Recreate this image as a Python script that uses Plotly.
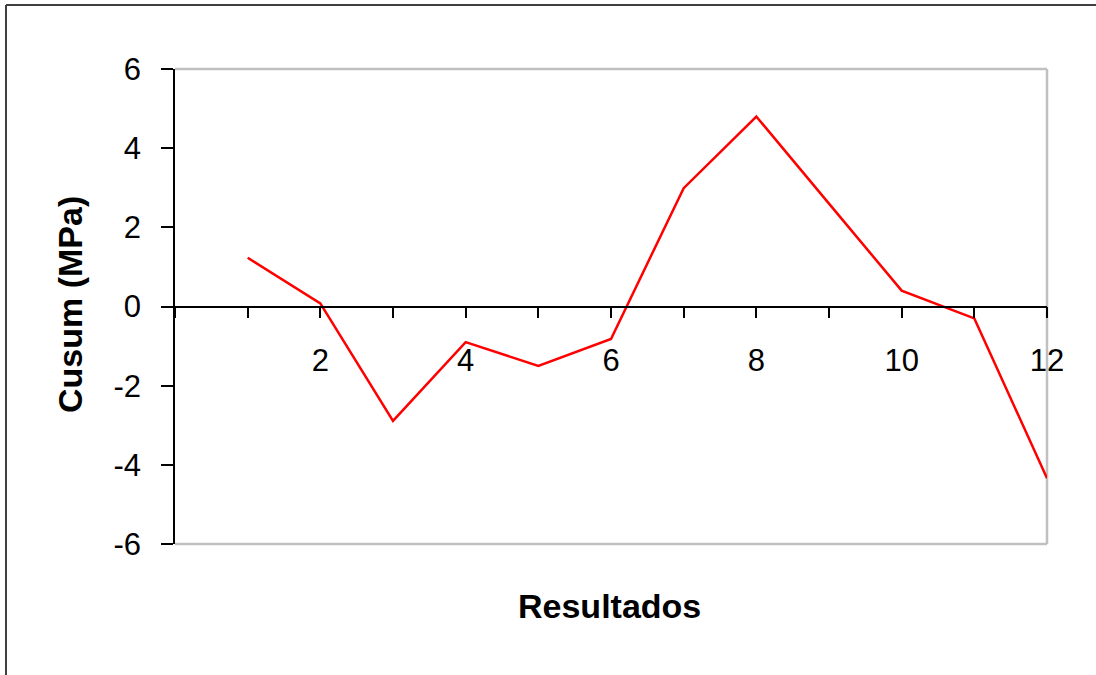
import plotly.graph_objects as go

# Cusum chart data
resultados = [1, 2, 3, 4, 5, 6, 7, 8, 9, 10, 11, 12]
cusum_mpa = [1.23, 0.08, -2.89, -0.90, -1.50, -0.82, 2.99, 4.80, 2.60, 0.40, -0.30, -4.34]

x_tick_vals = list(range(0, 13))
x_tick_text = ["", "", "2", "", "4", "", "6", "", "8", "", "10", "", "12"]
y_tick_vals = [-6, -4, -2, 0, 2, 4, 6]
y_tick_text = ["-6", "-4", "-2", "0", "2", "4", "6"]

FONT = "Liberation Sans, Arial, Helvetica, sans-serif"

fig = go.Figure()
fig.add_trace(go.Scatter(
    x=resultados, y=cusum_mpa, mode="lines",
    line=dict(color="#FF0000", width=2.5),
    showlegend=False, hoverinfo="x+y",
))

W, H = 1096, 675
L, R, T, B = 175, 49, 69, 131
pw, ph = W - L - R, H - T - B


def px_to_paper(px, py):
    return (px - L) / pw, (H - B - py) / ph


fig.update_layout(
    width=W, height=H,
    margin=dict(l=L, r=R, t=T, b=B, pad=0),
    paper_bgcolor="white", plot_bgcolor="white",
    font=dict(family=FONT, color="black", size=31),
    xaxis=dict(
        range=[0, 12], anchor="free", position=0.5,
        tickmode="array", tickvals=x_tick_vals, ticktext=x_tick_text,
        ticks="outside", ticklen=11, tickwidth=1.5, tickcolor="black",
        showline=True, linecolor="black", linewidth=1.5,
        showgrid=False, zeroline=False,
        tickfont=dict(size=31), ticklabelstandoff=16,
    ),
    yaxis=dict(
        range=[-6, 6],
        tickmode="array", tickvals=y_tick_vals, ticktext=y_tick_text,
        ticks="outside", ticklen=12, tickwidth=1.5, tickcolor="black",
        showline=True, linecolor="black", linewidth=1.5,
        showgrid=False, zeroline=False,
        tickfont=dict(size=31), ticklabelstandoff=14,
    ),
)

# grey plot-area frame (top, right, bottom)
fig.add_shape(type="line", xref="x domain", yref="y domain", x0=0, x1=1, y0=1, y1=1,
              line=dict(color="#C0C0C0", width=2.5), layer="below")
fig.add_shape(type="line", xref="x domain", yref="y domain", x0=1, x1=1, y0=0, y1=1,
              line=dict(color="#C0C0C0", width=2.5), layer="below")
fig.add_shape(type="line", xref="x domain", yref="y domain", x0=0, x1=1, y0=0, y1=0,
              line=dict(color="#C0C0C0", width=2.5), layer="below")

# outer chart border (left and top edges)
lx, ty = px_to_paper(6, 5)
rx, by = px_to_paper(W + 2, H + 2)
fig.add_shape(type="line", xref="paper", yref="paper", x0=lx, x1=rx, y0=ty, y1=ty,
              line=dict(color="#404040", width=2))
fig.add_shape(type="line", xref="paper", yref="paper", x0=lx, x1=lx, y0=ty, y1=by,
              line=dict(color="#404040", width=2))

# axis titles
tx, tyy = px_to_paper(70, 305)
fig.add_annotation(text="<b>Cusum (MPa)</b>", xref="paper", yref="paper", x=tx, y=tyy,
                   textangle=-90, showarrow=False, font=dict(size=34, family=FONT),
                   xanchor="center", yanchor="middle")
bx, byy = px_to_paper(609, 606)
fig.add_annotation(text="<b>Resultados</b>", xref="paper", yref="paper", x=bx, y=byy,
                   showarrow=False, font=dict(size=34, family=FONT),
                   xanchor="center", yanchor="middle")

fig.write_html("out.html")
